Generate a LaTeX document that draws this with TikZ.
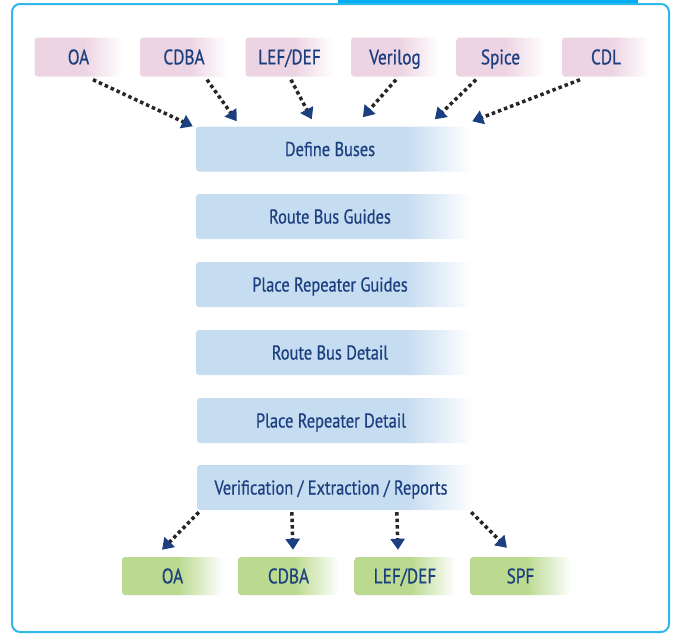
\documentclass[tikz,border=0pt]{standalone}
\usepackage{fontspec}
\setmainfont{PT Sans}[FakeStretch=0.82,FakeBold=0.6]
\usetikzlibrary{arrows.meta,calc}
\definecolor{navy}{HTML}{1C3F80}
\definecolor{pinkc}{HTML}{EDD4E2}
\definecolor{bluec}{HTML}{C6DCF0}
\definecolor{greenc}{HTML}{BBDA8F}
\definecolor{framec}{HTML}{2DB7EA}
\definecolor{tabc}{HTML}{00AEEF}
\definecolor{dotc}{HTML}{262626}
\pgfdeclarehorizontalshading{pinkfade}{100bp}{color(0bp)=(pinkc); color(25bp)=(pinkc); color(53bp)=(pinkc); color(75bp)=(white); color(100bp)=(white)}
\pgfdeclarehorizontalshading{bluefade}{100bp}{color(0bp)=(bluec); color(25bp)=(bluec); color(63bp)=(bluec); color(75bp)=(white); color(100bp)=(white)}
\pgfdeclarehorizontalshading{greenfade}{100bp}{color(0bp)=(greenc); color(25bp)=(greenc); color(53bp)=(greenc); color(75bp)=(white); color(100bp)=(white)}
\tikzset{
  boxbase/.style={rounded corners=3pt, inner sep=0pt, text=navy, font=\fontsize{20}{22}\selectfont},
  srcbox/.style={boxbase, shade, shading=pinkfade, minimum width=88pt, minimum height=39pt,
     font=\fontsize{21}{23}\selectfont, text height=14.7pt, text depth=-3.4pt},
  stepbox/.style={boxbase, shade, shading=bluefade, minimum width=276pt, minimum height=45pt,
     text height=14pt, text depth=-3pt},
  outbox/.style={boxbase, shade, shading=greenfade, minimum width=101pt, minimum height=38pt,
     font=\fontsize{21}{23}\selectfont, text height=14.7pt, text depth=-6pt},
  dotarrow/.style={dotc, line width=3.5pt, dash pattern=on 3.5pt off 3pt,
     -{Triangle[width=14pt,length=11pt,color=navy]}}
}
\begin{document}
\begin{tikzpicture}[x=1pt,y=-1pt]
\useasboundingbox (0,0) rectangle (675,635);
% frame
\fill[tabc] (338,-1) rectangle (638,4);
\draw[framec, line width=2pt, rounded corners=8pt] (12,4) rectangle (669,632);
% sources
\node[srcbox] (s1) at (78.5,57) {OA};
\node[srcbox] (s2) at (184,57) {CDBA};
\node[srcbox] (s3) at (289.5,57) {LEF/DEF};
\node[srcbox] (s4) at (395,57) {Verilog};
\node[srcbox] (s5) at (500.5,57) {Spice};
\node[srcbox] (s6) at (606,57) {CDL};
% steps
\node[stepbox] (db) at (334,149) {\hspace*{-8pt}Define Buses};
\node[stepbox] (rg) at (334,216.5) {\hspace*{-8pt}Route Bus Guides};
\node[stepbox] (pg) at (334,284.5) {\hspace*{-8pt}Place Repeater Guides};
\node[stepbox] (rd) at (334,352.5) {\hspace*{-8pt}Route Bus Detail};
\node[stepbox] (pd) at (335,420.5) {\hspace*{-8pt}Place Repeater Detail};
\node[stepbox] (ver) at (335,487.5) {\hspace*{-8pt}Verification / Extraction / Reports};
% outputs
\node[outbox] (g1) at (172.5,576) {OA};
\node[outbox] (g2) at (288.5,576) {CDBA};
\node[outbox] (g3) at (405,576) {LEF/DEF};
\node[outbox] (g4) at (520.5,576) {SPF};
% input arrows
\draw[dotarrow] ($(s1.south)+(14.5,3)$) -- ($(db.north west)+(-3,0)$);
\draw[dotarrow] ($(s2.south)+(23,3)$) -- ($(db.north west)+(41,-5)$);
\draw[dotarrow] ($(s3.south)+(1.5,3)$) -- ($(db.north west)+(116,-7)$);
\draw[dotarrow] ($(s4.south)+(1,3)$) -- ($(db.north west)+(167,-9)$);
\draw[dotarrow] ($(s5.south)+(-24.5,3)$) -- ($(db.north west)+(239,-7)$);
\draw[dotarrow] ($(s6.south)+(-26,3)$) -- ($(db.north east)+(0,-5)$);
% output arrows
\draw[dotarrow] ($(ver.south west)+(2,2)$) -- ($(g1.north)+(-10.5,-7)$);
\draw[dotarrow] ($(ver.south west)+(95,2)$) -- ($(g2.north)+(4.5,-7)$);
\draw[dotarrow] ($(ver.south west)+(200,2)$) -- ($(g3.north)+(-7,-7)$);
\draw[dotarrow] ($(ver.south east)+(-2,2)$) -- ($(g4.north)+(-13.5,-9)$);
\end{tikzpicture}
\end{document}
